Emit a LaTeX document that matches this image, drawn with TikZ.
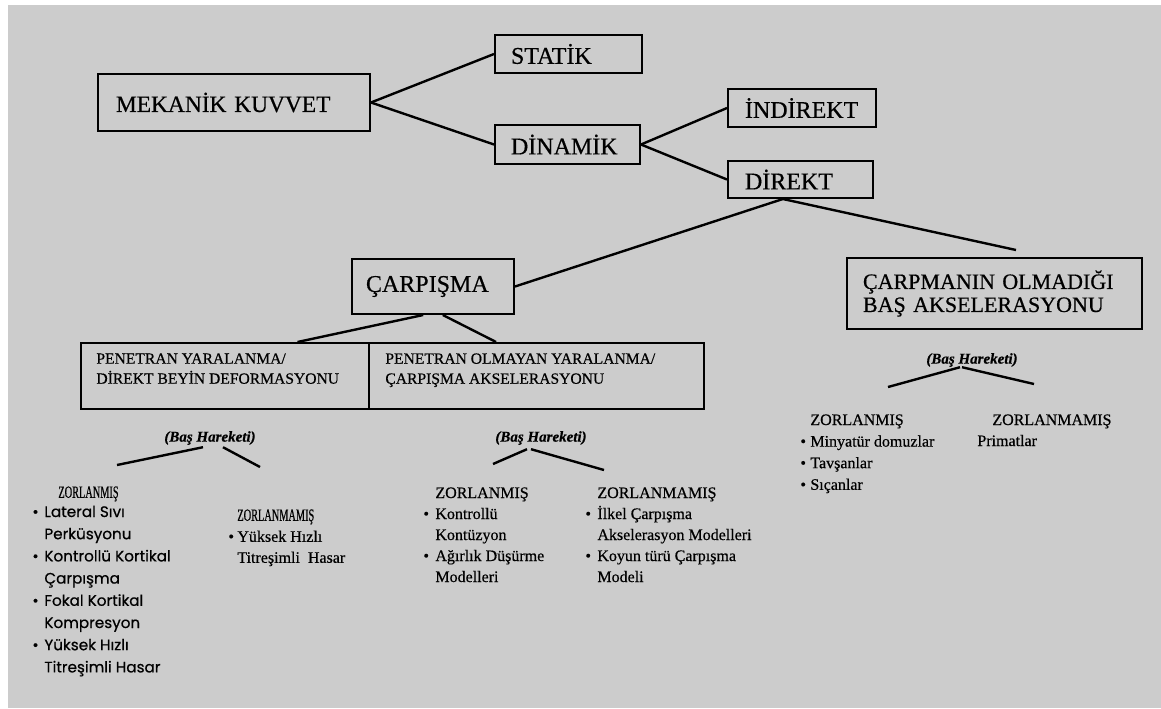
\documentclass[tikz,border=0pt]{standalone}
\usepackage{fontspec}
\setmainfont{Liberation Serif}[FakeBold=0.5]
\newfontfamily\gothic{Poppins}[FakeBold=0.6]
\newfontfamily\narrowserif{Liberation Serif}[FakeStretch=0.6, FakeBold=0.5]
\usetikzlibrary{calc}
\newcommand{\itm}{\makebox[6pt][l]{\textbullet}}
\newcommand{\cnt}{\hspace*{6pt}}

\begin{document}
\begin{tikzpicture}[x=0.5pt,y=-0.5pt]
    \tikzstyle{box}=[draw, line width=1pt, anchor=north west, align=left, inner ysep=0pt]
    \tikzstyle{head}=[font=\fontsize{12}{14}\selectfont]
    \tikzstyle{line}=[line width=1.2pt]
    \tikzstyle{boxtext}=[anchor=north west, align=left, inner sep=0pt, font=\fontsize{7.8}{10}\selectfont]
    \tikzstyle{hareket}=[inner sep=1pt, font=\fontsize{7.5}{9}\selectfont\bfseries\itshape]
    \tikzstyle{liste}=[anchor=north west, align=left, inner sep=0pt, font=\fontsize{8}{10.5}\selectfont]

    \useasboundingbox (0,0) rectangle (1161,708);
    \fill[white] (0,0) rectangle (1161,708);
    \fill[black!20] (8,5) rectangle (1161,708);

    % kutular
    \node[box, font=\fontsize{11.7}{13}\selectfont, text width=118pt, inner xsep=9pt, minimum height=28.5pt] (mekanik) at (97,73) {MEKANİK KUVVET};
    \node[box, head, text width=57.5pt, inner xsep=8pt, minimum height=19pt] (statik) at (494,34) {STATİK};
    \node[box, head, text width=56.5pt, inner xsep=8pt, minimum height=19.5pt] (dinamik) at (494,124) {DİNAMİK};
    \node[box, head, text width=57pt, inner xsep=8.5pt, minimum height=19pt] (indirekt) at (727,88) {İNDİREKT};
    \node[box, head, text width=55.5pt, inner xsep=8.5pt, minimum height=18.5pt] (direkt) at (727,160) {DİREKT};
    \node[box, head, text width=67pt, inner xsep=7pt, minimum height=27.5pt] (carpisma) at (351,258) {ÇARPIŞMA};
    \node[box, font=\fontsize{11}{11.5}\selectfont, text width=131.5pt, inner xsep=8pt, minimum height=35.5pt] (carpmasiz) at (846,257) {ÇARPMANIN OLMADIĞI\\BAŞ AKSELERASYONU};
    \node[box, minimum width=144pt, minimum height=33pt] (pen) at (80,342) {};
    \node[box, minimum width=167.5pt, minimum height=33pt] (nonpen) at (368,342) {};
    \node[boxtext] (pentext) at (96,353) {PENETRAN YARALANMA/\\DİREKT BEYİN DEFORMASYONU};
    \node[boxtext] (nonpentext) at (385,353) {PENETRAN OLMAYAN YARALANMA/\\ÇARPIŞMA AKSELERASYONU};

    % baglantilar
    \draw[line] (mekanik.east) -- (statik.west);
    \draw[line] (mekanik.east) -- (dinamik.west);
    \draw[line] (dinamik.east) -- (indirekt.west);
    \draw[line] (dinamik.east) -- (direkt.west);
    \coordinate (accend) at (1016,250);
    \draw[line] ($(direkt.south west)!0.38!(direkt.south east)$) -- (carpisma.east);
    \draw[line] ($(direkt.south west)!0.38!(direkt.south east)$) -- (accend);
    \draw[line] ($(carpisma.south west)!0.44!(carpisma.south east)$) -- ($(pen.north west)!0.75!(pen.north east)$);
    \draw[line] ($(carpisma.south west)!0.56!(carpisma.south east)$) -- ($(nonpen.north west)!0.38!(nonpen.north east)$);

    % bas hareketi
    \node[hareket] (harA) at (210,438) {(Baş Hareketi)};
    \node[hareket] (harB) at (541,438) {(Baş Hareketi)};
    \node[hareket] (harC) at (972,360) {(Baş Hareketi)};
    \coordinate (harA1) at (117,465);
    \coordinate (harA2) at (260,467);
    \coordinate (harB1) at (493,464);
    \coordinate (harB2) at (604,470);
    \coordinate (harC1) at (888,387);
    \coordinate (harC2) at (1034,384);
    \draw[line] ($(harA.south)+(-7,0)$) -- (harA1);
    \draw[line] ($(harA.south)+(13,0)$) -- (harA2);
    \draw[line] ($(harB.south)+(-14,2)$) -- (harB1);
    \draw[line] ($(harB.south)+(-10,2)$) -- (harB2);
    \draw[line] ($(harC.south)+(-12,-2)$) -- (harC1);
    \draw[line] ($(harC.south)+(-10,-2)$) -- (harC2);

    % listeler
    \node[liste, font=\fontsize{7.6}{11.1}\selectfont\gothic] (zorA) at (32,486) {\hspace*{13pt}{\fontsize{8.6}{10}\narrowserif ZORLANMIŞ}\\[-1.5pt]
        \itm Lateral Sıvı\\ \cnt Perküsyonu\\ \itm Kontrollü Kortikal\\ \cnt Çarpışma\\
        \itm Fokal Kortikal\\ \cnt Kompresyon\\ \itm Yüksek Hızlı\\ \cnt Titreşimli Hasar};
    \node[liste] (zorsA) at (228,509) {\hspace*{4.5pt}{\fontsize{8.6}{10}\narrowserif ZORLANMAMIŞ}\\
        \makebox[4.5pt][l]{\textbullet}Yüksek Hızlı\\ \hspace*{4.5pt}Titreşimli\ \ Hasar};
    \node[liste] (zorB) at (423,487) {\cnt ZORLANMIŞ\\ \itm Kontrollü\\ \cnt Kontüzyon\\
        \itm Ağırlık Düşürme\\ \cnt Modelleri};
    \node[liste] (zorsB) at (585,487) {\cnt ZORLANMAMIŞ\\ \itm İlkel Çarpışma\\ \cnt Akselerasyon Modelleri\\
        \itm Koyun türü Çarpışma\\ \cnt Modeli};
    \node[liste, font=\fontsize{8}{10.8}\selectfont] (zorC) at (800,414) {\hspace*{5pt}ZORLANMIŞ\\
        \makebox[5pt][l]{\textbullet}Minyatür domuzlar\\ \makebox[5pt][l]{\textbullet}Tavşanlar\\ \makebox[5pt][l]{\textbullet}Sıçanlar};
    \node[liste] (zorsC) at (977,414) {\hspace*{7.5pt}ZORLANMAMIŞ\\Primatlar};
\end{tikzpicture}
\end{document}
